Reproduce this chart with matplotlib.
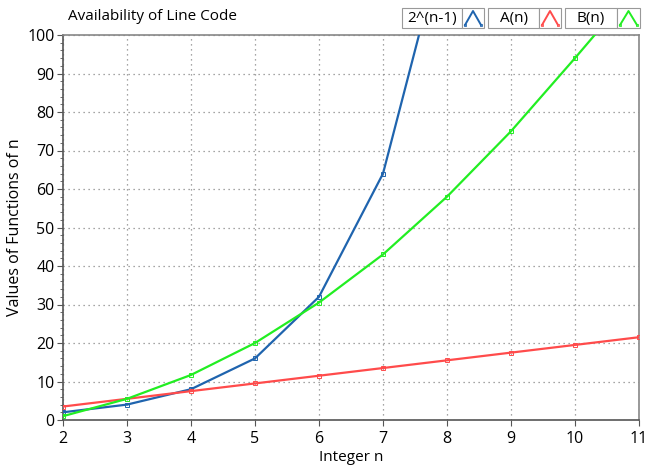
import matplotlib
matplotlib.use("Agg")
import matplotlib.pyplot as plt
from matplotlib.patches import Rectangle
from matplotlib.lines import Line2D
from matplotlib.ticker import MultipleLocator

plt.rcParams['font.family'] = ['Open Sans', 'DejaVu Sans']

n = [2, 3, 4, 5, 6, 7, 8, 9, 10, 11]
pow2 = [2, 4, 8, 16, 32, 64, 128, 256, 512, 1024]
a_vals = [3.5, 5.5, 7.5, 9.5, 11.5, 13.5, 15.5, 17.5, 19.5, 21.5]
b_vals = [1, 5.5, 11.7, 20, 30.5, 43, 58, 75, 94, 113.5]
labels = ["2^(n-1)", "A(n)", "B(n)"]
colors = ["#1f64ae", "#ff4b4b", "#22ee22"]
title = "Availability of Line Code"

fig = plt.figure(figsize=(6.49, 4.68), dpi=100)
W, H = 649, 468
L, R, T, B = 63, 639, 35, 420
ax = fig.add_axes([L / W, 1 - B / H, (R - L) / W, (B - T) / H])

for ys, c in zip([pow2, a_vals, b_vals], colors):
    ax.plot(n, ys, color=c, lw=1.6, marker='s', ms=3.2, mfc='none', mec=c, mew=0.7,
            clip_on=True, zorder=3)

ax.set_xlim(2, 11)
ax.set_ylim(0, 100)
ax.xaxis.set_major_locator(MultipleLocator(1))
ax.yaxis.set_major_locator(MultipleLocator(10))
ax.yaxis.set_minor_locator(MultipleLocator(2))
ax.grid(True, which='major', linestyle=(0, (1, 3)), color='#888888', lw=0.9)
ax.tick_params(axis='both', which='major', labelsize=11.5, length=4, color='#555555', pad=2)
ax.tick_params(axis='x', which='major', pad=4)
ax.tick_params(axis='y', which='minor', length=2, color='#555555')
for s in ['top', 'right']:
    ax.spines[s].set_color('#888888')
for s in ['left', 'bottom']:
    ax.spines[s].set_color('#555555')
for s in ax.spines.values():
    s.set_linewidth(1.2)
ax.set_xlabel("Integer n", fontsize=11, labelpad=2)
ax.set_ylabel("Values of Functions of n", fontsize=11.5, labelpad=3)

fig.text(68 / W, 1 - 17 / H, title, fontsize=11, va='center', ha='left')

# Custom legend boxes
items = [(402, 462, 484), (488, 539, 561), (565, 617, 640)]
y0, y1 = 8, 28
for (x0, xm, x1), lab, c in zip(items, labels, colors):
    fig.patches.append(Rectangle((x0 / W, 1 - y1 / H), (xm - x0) / W, (y1 - y0) / H,
                                 transform=fig.transFigure, fc='white', ec='#999999', lw=0.8))
    fig.patches.append(Rectangle((xm / W, 1 - y1 / H), (x1 - xm) / W, (y1 - y0) / H,
                                 transform=fig.transFigure, fc='white', ec='#999999', lw=0.8))
    fig.text((x0 + xm) / 2 / W, 1 - 18.5 / H, lab, fontsize=11, ha='center', va='center')
    xs = [(xm + 3) / W, (xm + x1) / 2 / W, (x1 - 3) / W]
    ys = [1 - (y1 - 3) / H, 1 - (y0 + 3) / H, 1 - (y1 - 3) / H]
    fig.lines.append(Line2D(xs, ys, transform=fig.transFigure, color=c, lw=1.4))
    fig.lines.append(Line2D([xs[0], xs[2]], [ys[0], ys[2]], transform=fig.transFigure,
                            color=c, lw=0, marker='s', ms=2, mfc='none', mec=c, mew=0.6))

fig.savefig("out.png", dpi=100)
